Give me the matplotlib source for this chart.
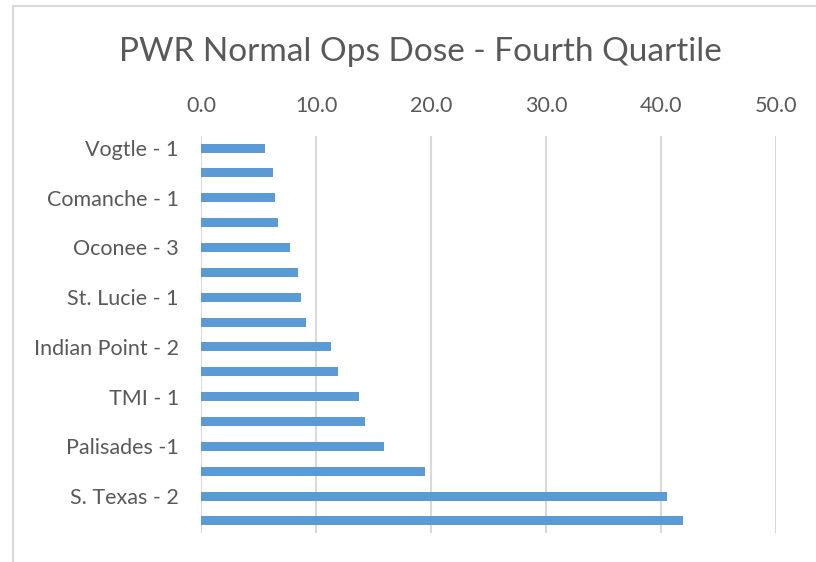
import matplotlib.pyplot as plt
from matplotlib.patches import Rectangle

# plants, top to bottom (only every other label is shown, like the Excel original)
plants = ["Vogtle - 1", "", "Comanche - 1", "", "Oconee - 3", "", "St. Lucie - 1", "",
          "Indian Point - 2", "", "TMI - 1", "", "Palisades -1", "", "S. Texas - 2", ""]
dose = [5.6, 6.3, 6.4, 6.7, 7.7, 8.4, 8.7, 9.1,
        11.3, 11.9, 13.7, 14.3, 15.9, 19.5, 40.5, 41.9]
xticks = [0, 10, 20, 30, 40, 50]

plt.rcParams['font.family'] = ['Lato', 'DejaVu Sans']
grey = '#595959'

fig = plt.figure(figsize=(8.16, 5.62), dpi=100)
ax = fig.add_axes([0.2463, 0.0509, 0.7047, 0.7078])

pos = list(range(len(dose)))
ax.barh(pos, dose, height=0.36, color='#5b9bd5', zorder=3)

ax.set_xlim(0, 50)
ax.set_ylim(15.5, -0.5)
ax.set_xticks(xticks)
ax.set_xticklabels([f"{v:.1f}" for v in xticks])
ax.set_yticks(pos)
ax.set_yticklabels(plants)
ax.xaxis.tick_top()
ax.tick_params(axis='x', length=0, pad=14, labelsize=15.5, colors=grey)
ax.tick_params(axis='y', length=0, pad=16, labelsize=15.5, colors=grey)
ax.grid(axis='x', color='#d9d9d9', linewidth=1.5, zorder=0)
for s in ax.spines.values():
    s.set_visible(False)

fig.text(0.515, 0.908, "PWR Normal Ops Dose - Fourth Quartile", ha='center', va='center',
         fontsize=24, color=grey)

# chart area border (cut off at right and bottom in the reference)
fig.patches.append(Rectangle((12.5 / 816, -0.05), 1.0, 1 - 5.5 / 562 + 0.05,
                             transform=fig.transFigure, fill=False,
                             edgecolor='#d9d9d9', linewidth=1.5))

plt.savefig("out.png", dpi=100)
plt.close()
